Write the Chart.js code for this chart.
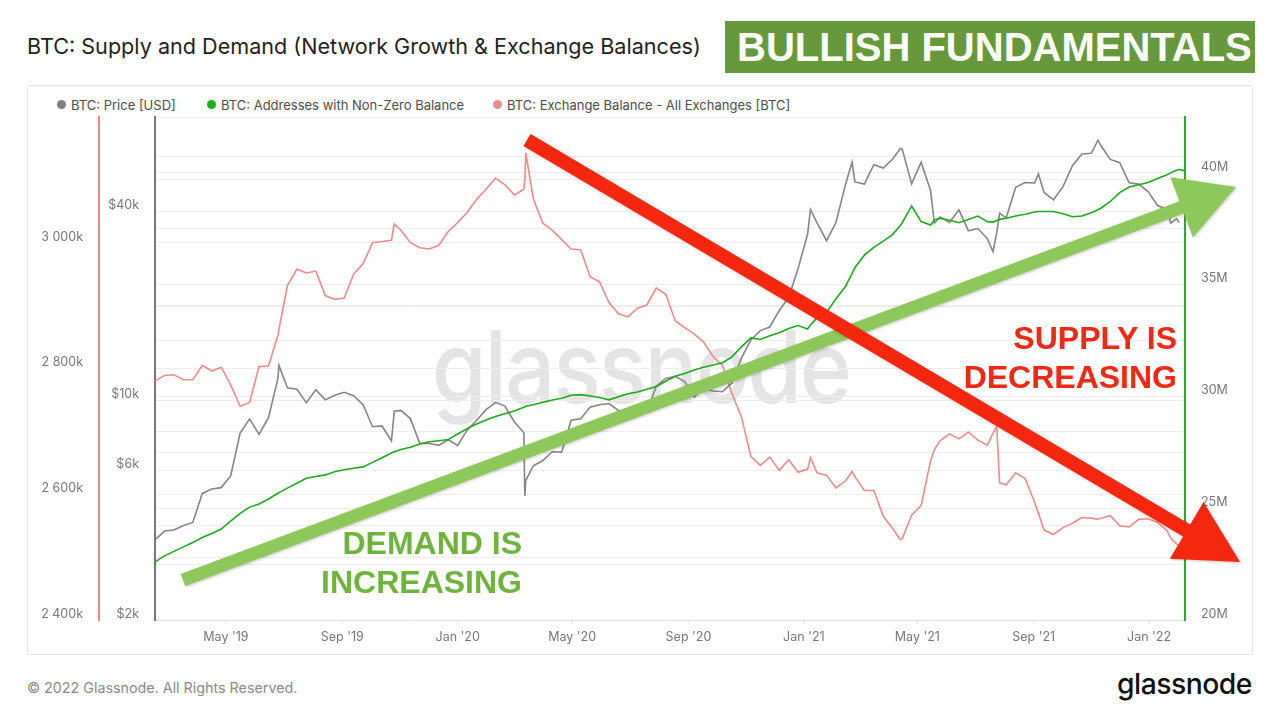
<!DOCTYPE html>
<html>
<head>
<meta charset="utf-8">
<script src="https://cdn.jsdelivr.net/npm/chart.js@4.4.1/dist/chart.umd.min.js"></script>
<style>
html,body{margin:0;padding:0;background:#fff;}
body{width:1280px;height:720px;position:relative;overflow:hidden;font-family:Inter,"Open Sans",sans-serif;}
#title{position:absolute;left:27px;top:32px;font-size:21.6px;color:#222;line-height:28px;white-space:nowrap;}
#badge{position:absolute;left:725px;top:21px;width:530px;height:52px;background:#66993b;color:#fff;font:bold 40px "Liberation Sans",Arial,sans-serif;line-height:53px;padding-left:12px;box-sizing:border-box;white-space:nowrap;}
#card{position:absolute;left:27px;top:85px;width:1226px;height:570px;border:1px solid #e4e4e4;border-radius:3px;box-sizing:border-box;}
.lg{position:absolute;top:97px;font-size:13px;color:#4d4d4d;line-height:16px;white-space:nowrap;}
.lg i{position:absolute;left:-14px;top:3px;width:9px;height:9px;border-radius:50%;}
#wm{position:absolute;left:432px;top:317px;font-size:100px;line-height:100px;font-weight:500;color:#e4e4e4;white-space:nowrap;transform-origin:0 0;letter-spacing:-2px;}
#chart{position:absolute;left:28px;top:110px;z-index:2;}
.note{position:absolute;z-index:3;font:bold 32px "Liberation Sans",Arial,sans-serif;line-height:39px;text-align:right;white-space:nowrap;}
#demand{right:758px;top:524px;color:#6eb43c;}
#supply{right:103px;top:319px;color:#f02814;}
#copy{position:absolute;left:27px;top:679px;font-size:14.3px;color:#8a8a8a;line-height:18px;white-space:nowrap;}
#logo{position:absolute;left:1117px;top:668px;font-size:29px;line-height:32px;font-weight:500;color:#111;white-space:nowrap;transform-origin:0 0;letter-spacing:-0.5px;}
</style>
</head>
<body>
<div id="title">BTC: Supply and Demand (Network Growth &amp; Exchange Balances)</div>
<div id="badge">BULLISH FUNDAMENTALS</div>
<div id="card"></div>
<div class="lg" style="left:71px"><i style="background:#808080"></i>BTC: Price [USD]</div>
<div class="lg" style="left:221px"><i style="background:#18b018"></i>BTC: Addresses with Non-Zero Balance</div>
<div class="lg" style="left:507px"><i style="background:#f08c8c"></i>BTC: Exchange Balance - All Exchanges [BTC]</div>
<div id="wm">glassnode</div>
<canvas id="chart" width="1224" height="545"></canvas>
<div class="note" id="demand">DEMAND IS<br>INCREASING</div>
<div class="note" id="supply">SUPPLY IS<br>DECREASING</div>
<div id="copy">© 2022 Glassnode. All Rights Reserved.</div>
<div id="logo">glassnode</div>
<script>
// ---------------- DATA ----------------
const dates = [
 '2019-02-15','2019-02-25','2019-03-07','2019-03-17','2019-03-27','2019-04-06','2019-04-16','2019-04-26',
 '2019-05-06','2019-05-16','2019-05-26','2019-06-05','2019-06-15','2019-06-25','2019-06-26','2019-07-05',
 '2019-07-15','2019-07-25','2019-08-04','2019-08-14','2019-08-24','2019-09-03','2019-09-13','2019-09-23',
 '2019-10-03','2019-10-13','2019-10-23','2019-10-26','2019-11-02','2019-11-12','2019-11-22','2019-12-02',
 '2019-12-12','2019-12-22','2020-01-01','2020-01-11','2020-01-21','2020-01-31','2020-02-10','2020-02-20',
 '2020-03-01','2020-03-11','2020-03-12','2020-03-13','2020-03-21','2020-03-31','2020-04-10','2020-04-20',
 '2020-04-30','2020-05-10','2020-05-20','2020-05-30','2020-06-09','2020-06-19','2020-06-29','2020-07-09',
 '2020-07-19','2020-07-29','2020-08-08','2020-08-18','2020-08-28','2020-09-07','2020-09-17','2020-09-27',
 '2020-10-07','2020-10-17','2020-10-27','2020-11-06','2020-11-16','2020-11-26','2020-12-06','2020-12-16',
 '2020-12-26','2021-01-05','2021-01-08','2021-01-15','2021-01-25','2021-02-04','2021-02-14','2021-02-21',
 '2021-02-24','2021-03-06','2021-03-16','2021-03-26','2021-04-05','2021-04-13','2021-04-15','2021-04-25',
 '2021-05-05','2021-05-15','2021-05-19','2021-05-25','2021-06-04','2021-06-14','2021-06-24','2021-07-04',
 '2021-07-14','2021-07-20','2021-07-24','2021-07-27','2021-08-03','2021-08-13','2021-08-23','2021-09-02',
 '2021-09-06','2021-09-12','2021-09-22','2021-10-02','2021-10-12','2021-10-22','2021-11-01','2021-11-08',
 '2021-11-11','2021-11-21','2021-12-01','2021-12-11','2021-12-21','2021-12-31','2022-01-10','2022-01-20',
 '2022-01-24','2022-01-30','2022-02-02','2022-02-08'
];
const priceUSD = [
 3600,3840,3870,4000,4090,5060,5230,5280,
 5750,7880,8740,7800,8820,11770,12930,10980,
 10860,9850,10820,10050,10400,10620,10360,9700,
 8250,8300,7440,9250,9300,8760,7300,7300,
 7200,7500,7200,8050,8650,9350,9850,9600,
 8550,7900,4970,5560,6200,6440,6870,6850,
 8650,8750,9520,9700,9780,9300,9190,9250,
 9200,11100,11760,11950,11500,10250,10950,10730,
 10670,11360,13650,15600,16700,17150,19350,21300,
 26400,33900,40600,36800,32300,36900,48700,57400,
 49700,48900,56400,55000,58800,63500,63200,49000,
 57400,46700,36700,38400,36900,40500,34700,35300,
 32800,29800,34300,39500,38200,47800,49500,49300,
 52700,46000,43600,48000,56000,61000,61300,67500,
 64900,58600,57200,49400,48900,46300,41800,40700,
 36700,37900,36900,null
];
const addressesM = [
 22.60,22.87,23.07,23.27,23.47,23.69,23.87,24.07,
 24.42,24.77,25.05,25.19,25.41,25.67,25.70,25.90,
 26.12,26.34,26.42,26.49,26.63,26.72,26.79,26.85,
 27.05,27.26,27.47,27.53,27.63,27.73,27.87,27.97,
 28.02,28.07,28.32,28.56,28.77,28.95,29.10,29.23,
 29.35,29.52,29.54,29.56,29.63,29.74,29.84,29.92,
 30.05,30.08,30.02,29.95,29.85,29.99,30.12,30.20,
 30.32,30.44,30.68,30.90,31.03,31.18,31.31,31.41,
 31.51,31.77,32.22,32.62,32.55,32.72,32.85,33.04,
 33.17,33.02,33.20,33.52,33.77,34.37,34.92,35.50,
 35.77,36.32,36.67,36.95,37.25,37.65,37.77,38.52,
 37.82,37.67,37.90,37.97,37.88,37.77,37.92,38.07,
 37.82,37.80,37.87,37.92,37.97,38.07,38.15,38.25,
 38.27,38.27,38.27,38.17,38.04,38.07,38.22,38.35,
 38.42,38.72,39.12,39.37,39.47,39.57,39.75,39.92,
 40.00,40.12,40.15,40.09
];
const exchangeBalanceK = [
 2780,2789,2790,2782,2782,2805,2796,2802,
 2774,2740,2746,2803,2804,2853,2862,2932,
 2958,2952,2955,2916,2910,2912,2950,2967,
 3000,3002,3004,3030,3020,3000,2992,2990,
 2996,3018,3032,3048,3069,3085,3103,3092,
 3076,3085,3100,3143,3070,3031,3020,3005,
 2990,2989,2946,2938,2905,2887,2882,2896,
 2901,2928,2918,2876,2865,2855,2842,2819,
 2805,2760,2723,2660,2646,2659,2638,2655,
 2635,2640,2658,2634,2630,2610,2621,2636,
 2628,2606,2606,2565,2545,2528,2529,2567,
 2582,2653,2671,2685,2696,2688,2699,2686,
 2678,2697,2708,2618,2615,2634,2625,2587,
 2570,2543,2536,2547,2554,2563,2562,2560,
 2562,2566,2550,2548,2560,2561,2555,2542,
 2530,2521,2517,2512
];
const xTickDates = ['2019-05-01','2019-09-01','2020-01-01','2020-05-01','2020-09-01','2021-01-01','2021-05-01','2021-09-01','2022-01-01'];
const xTickLabels = ["May '19","Sep '19","Jan '20","May '20","Sep '20","Jan '21","May '21","Sep '21","Jan '22"];
const priceTicks = [2000,4000,6000,10000,20000,40000,60000];
const priceTickLabels = ['$2k','','$6k','$10k','','$40k',''];
const addrTicks = [20,22.5,25,27.5,30,32.5,35,37.5,40,42.5];
const addrTickLabels = ['20M','','25M','','30M','','35M','','40M',''];
const exTicks = [2400,2500,2600,2700,2800,2900,3000,3100,3200];
const exTickLabels = ['2 400k','','2 600k','','2 800k','','3 000k','',''];

// annotation arrows (page pixel positions)
const arrows = [
 {from:[183,580], to:[1236,187], color:'#8cc85a', width:13, headLen:58, headHalf:32},
 {from:[527,140], to:[1240,562], color:'#f5280f', width:14, headLen:62, headHalf:33}
];
const CANVAS_X = 28, CANVAS_Y = 110;

// ---------------- CHART ----------------
const toPts = arr => dates.map((d,i)=>({x:Date.parse(d), y:arr[i]}));
Chart.defaults.font.family = 'Inter, "Open Sans", sans-serif';
const tickFont = {size:12.5};
const gridColor = '#eeeeee';
const noPad = s => { s.paddingTop = 0; s.paddingBottom = 0; s.paddingLeft = 0; s.paddingRight = 0; };

const arrowPlugin = {
  id:'arrows',
  afterDatasetsDraw(chart){
    const ctx = chart.ctx;
    ctx.save();
    arrows.forEach(a=>{
      const fx=a.from[0]-CANVAS_X, fy=a.from[1]-CANVAS_Y, tx=a.to[0]-CANVAS_X, ty=a.to[1]-CANVAS_Y;
      const L=Math.hypot(tx-fx,ty-fy), ux=(tx-fx)/L, uy=(ty-fy)/L, nx=-uy, ny=ux;
      const bx=tx-ux*a.headLen, by=ty-uy*a.headLen;
      ctx.shadowColor='rgba(0,0,0,0.22)'; ctx.shadowBlur=3; ctx.shadowOffsetX=1; ctx.shadowOffsetY=1;
      ctx.fillStyle=a.color;
      const hw=a.width/2;
      ctx.beginPath();
      ctx.moveTo(fx+nx*hw, fy+ny*hw);
      ctx.lineTo(bx+nx*hw, by+ny*hw);
      ctx.lineTo(bx+nx*a.headHalf, by+ny*a.headHalf);
      ctx.lineTo(tx, ty);
      ctx.lineTo(bx-nx*a.headHalf, by-ny*a.headHalf);
      ctx.lineTo(bx-nx*hw, by-ny*hw);
      ctx.lineTo(fx-nx*hw, fy-ny*hw);
      ctx.closePath();
      ctx.fill();
    });
    ctx.restore();
  }
};

new Chart(document.getElementById('chart'), {
  type:'line',
  data:{
    datasets:[
      {label:'BTC: Addresses with Non-Zero Balance', data:toPts(addressesM), yAxisID:'yAddr', borderColor:'#1aaa1a', borderWidth:1.6, pointRadius:0, order:1},
      {label:'BTC: Price [USD]', data:toPts(priceUSD), yAxisID:'yPrice', borderColor:'#858585', borderWidth:1.6, pointRadius:0, order:2},
      {label:'BTC: Exchange Balance - All Exchanges [BTC]', data:toPts(exchangeBalanceK), yAxisID:'yEx', borderColor:'#f08a8a', borderWidth:1.6, pointRadius:0, order:3}
    ]
  },
  options:{
    responsive:false, animation:false, devicePixelRatio:1,
    layout:{padding:{top:7,left:0,right:0,bottom:0}},
    plugins:{legend:{display:false}, tooltip:{enabled:false}},
    elements:{line:{tension:0}},
    scales:{
      x:{
        type:'linear', position:'bottom',
        min:Date.parse(dates[0]), max:Date.parse(dates[dates.length-1]),
        afterBuildTicks:s=>{ s.ticks = xTickDates.map(d=>({value:Date.parse(d)})); },
        afterFit:s=>{ s.height = 35; noPad(s); },
        ticks:{callback:(v,i)=>xTickLabels[i], color:'#777', font:tickFont, padding:6, maxRotation:0, autoSkip:false},
        grid:{drawOnChartArea:false, tickLength:4, color:'#e6e6e6'},
        border:{color:'#dcdcdc', width:1}
      },
      yEx:{
        type:'linear', position:'left', weight:10, min:2400, max:3200,
        afterBuildTicks:s=>{ s.ticks = exTicks.map(v=>({value:v})); },
        afterFit:s=>{ s.width = 71; noPad(s); },
        ticks:{callback:(v,i)=>exTickLabels[i], color:'#777', font:tickFont, padding:16, labelOffset:-6, autoSkip:false},
        grid:{color:gridColor, drawTicks:false},
        border:{color:'#ef8585', width:2}
      },
      yPrice:{
        type:'logarithmic', position:'left', weight:5, min:2000, max:80000,
        afterBuildTicks:s=>{ s.ticks = priceTicks.map(v=>({value:v})); },
        afterFit:s=>{ s.width = 56; noPad(s); },
        ticks:{callback:(v,i)=>priceTickLabels[i], color:'#777', font:tickFont, padding:16, labelOffset:-6, autoSkip:false},
        grid:{color:gridColor, drawTicks:false},
        border:{color:'#777777', width:2}
      },
      yAddr:{
        type:'linear', position:'right', min:20, max:42.5,
        afterBuildTicks:s=>{ s.ticks = addrTicks.map(v=>({value:v})); },
        afterFit:s=>{ s.width = 67; noPad(s); },
        ticks:{callback:(v,i)=>addrTickLabels[i], color:'#777', font:tickFont, padding:16, labelOffset:-6, autoSkip:false},
        grid:{color:gridColor, drawTicks:false},
        border:{color:'#1db31d', width:2}
      }
    }
  },
  plugins:[arrowPlugin]
});

// fit watermark and logo widths
function fitWidth(id, w){ const el=document.getElementById(id); const cw=el.getBoundingClientRect().width; el.style.transform='scaleX('+(w/cw)+')'; }
fitWidth('wm', 418);
fitWidth('logo', 135);
</script>
</body>
</html>
